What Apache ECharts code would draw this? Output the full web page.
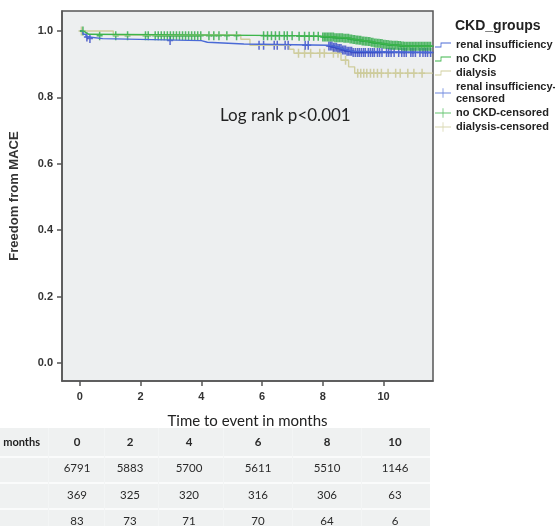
<!DOCTYPE html>
<html>
<head>
<meta charset="utf-8">
<script src="https://cdn.jsdelivr.net/npm/echarts@6/dist/echarts.min.js"></script>
<style>
  html, body { margin: 0; padding: 0; background: #fff; }
  #chart { width: 555px; height: 526px; }
</style>
</head>
<body>
<div id="chart"></div>
<script>
  // Kaplan-Meier steps: [months, freedom from MACE] (value holds from that time on)
  var renalCurve = [[0, 1], [0.1, 0.99], [0.2, 0.982], [0.3, 0.977], [0.75, 0.971], [4.0, 0.966], [4.2, 0.961],
    [5.4, 0.957], [8.2, 0.955], [8.35, 0.951], [8.5, 0.947], [8.65, 0.943], [8.8, 0.939], [9.0, 0.935], [11.62, 0.934]]
  var noCkdCurve = [[0, 1], [0.12, 0.995], [0.2, 0.99], [0.3, 0.986], [7.0, 0.984], [7.9, 0.982], [8.4, 0.98],
    [8.7, 0.978], [8.9, 0.976], [9.0, 0.974], [9.1, 0.973], [9.2, 0.972], [9.3, 0.97], [9.4, 0.969], [9.5, 0.968],
    [9.6, 0.966], [9.7, 0.964], [9.8, 0.963], [9.9, 0.962], [10.0, 0.96], [10.1, 0.959], [10.2, 0.958],
    [10.3, 0.957], [10.5, 0.956], [10.6, 0.955], [10.7, 0.954], [11.62, 0.954]]
  var dialysisCurve = [[0, 1], [1.1, 0.988], [5.3, 0.975], [5.6, 0.957], [6.9, 0.945], [7.05, 0.933],
    [8.6, 0.912], [8.85, 0.892], [9.05, 0.873], [11.62, 0.873]]

  // censoring times (months)
  var renalCensor = [0.23, 0.33, 2.97, 5.9, 6.05, 6.4, 6.5, 6.76, 6.86, 7.42, 7.52, 8.2, 8.25, 8.3, 8.35, 8.4,
    8.45, 8.5, 8.55, 8.6, 8.65, 8.7, 8.75, 8.8, 8.85, 8.9, 8.95, 9.0, 9.07, 9.14, 9.2, 9.27, 9.34, 9.4, 9.5,
    9.57, 9.64, 9.7, 9.8, 9.87, 9.95, 10.1, 10.17, 10.25, 10.35, 10.5, 10.6, 10.68, 10.75, 10.9, 10.97, 11.05,
    11.2, 11.3, 11.38, 11.45, 11.55]
  var noCkdCensor = [0.1, 0.65, 1.18, 1.57, 2.16, 2.25, 2.48, 2.58, 2.68, 2.78, 2.88, 2.98, 3.08, 3.18, 3.28,
    3.38, 3.48, 3.58, 3.68, 3.78, 3.88, 3.98, 4.25, 4.41, 4.58, 4.84, 5.16, 6.05, 6.18, 6.31, 6.44, 6.57, 6.73,
    6.83, 6.99, 7.22, 7.4, 7.55, 7.7, 7.85, 8.0, 8.05, 8.1, 8.15, 8.2, 8.25, 8.3, 8.35, 8.4, 8.45, 8.5, 8.55,
    8.6, 8.65, 8.7, 8.75, 8.8, 8.85, 8.9, 8.95, 9.0, 9.05, 9.1, 9.15, 9.2, 9.25, 9.3, 9.35, 9.4, 9.45, 9.5,
    9.55, 9.6, 9.65, 9.7, 9.75, 9.8, 9.85, 9.9, 9.95, 10.0, 10.05, 10.1, 10.15, 10.2, 10.25, 10.3, 10.35,
    10.4, 10.45, 10.5, 10.55, 10.6, 10.65, 10.7, 10.75, 10.8, 10.85, 10.9, 10.95, 11.0, 11.05, 11.1, 11.15,
    11.2, 11.25, 11.3, 11.35, 11.4, 11.45, 11.5, 11.55]
  var dialysisCensor = [0.05, 7.2, 7.4, 7.6, 7.9, 8.05, 8.35, 8.5, 8.75, 9.15, 9.25, 9.35, 9.45, 9.57, 9.68,
    9.8, 9.93, 10.15, 10.4, 10.55, 10.8, 11.0, 11.27]

  var monthTicks = [0, 2, 4, 6, 8, 10]
  var survTicks = [0, 0.2, 0.4, 0.6, 0.8, 1.0]

  // number at risk table
  var riskMonths = ['0', '2', '4', '6', '8', '10']
  var riskNoCkd = [6791, 5883, 5700, 5611, 5510, 1146]
  var riskRenal = [369, 325, 320, 316, 306, 63]
  var riskDialysis = [83, 73, 71, 70, 64, 6]

  var blue = '#4a6ad6', blueMark = '#3447c4'
  var green = '#3db54b', greenMark = '#2aa845'
  var tan = '#cfcd9c', tanMark = '#c6c38c'

  // value of a KM step curve at time t
  function stepValue(curve, t) {
    var v = curve[0][1]
    for (var i = 0; i < curve.length; i++) {
      if (curve[i][0] <= t) v = curve[i][1]
    }
    return v
  }
  function censorPoints(curve, times) {
    return times.map(function (t) { return [t, stepValue(curve, t)] })
  }

  var plusMark = 'path://M0,3.75L6,3.75L6,5.25L0,5.25Z M2.25,0L3.75,0L3.75,9L2.25,9Z'
  var stepIcon = 'path://M0,5L7,5L7,0L20,0L20,1L8,1L8,6L0,6Z'
  var plusIcon = 'path://M0,5.5L20,5.5L20,6.5L0,6.5Z M9.5,0L10.5,0L10.5,12L9.5,12Z'

  function lineSeries(name, data, color) {
    return {
      name: name, type: 'line', step: 'end', data: data, showSymbol: false, symbol: 'none',
      color: color, lineStyle: { color: color, width: 1.4 }, silent: true, clip: true
    }
  }
  function censorSeries(name, data, color) {
    return {
      name: name, type: 'scatter', data: data, symbol: plusMark, symbolSize: [6, 9],
      color: color, itemStyle: { color: color }, silent: true, clip: true
    }
  }

  // table columns / rows (layout only)
  var colX = [77, 130, 189, 258, 327, 395]
  var rowY = [442, 468, 495, 521]
  var tableGraphics = [
    { type: 'rect', shape: { x: 0, y: 428, width: 430, height: 98 }, style: { fill: '#eff1f1' } }
  ]
  ;[456, 482, 508].forEach(function (y) {
    tableGraphics.push({ type: 'rect', shape: { x: 0, y: y, width: 430, height: 2 }, style: { fill: '#fafbfb' } })
  })
  ;[48, 104, 158, 223, 292, 361].forEach(function (x) {
    tableGraphics.push({ type: 'rect', shape: { x: x, y: 428, width: 1, height: 98 }, style: { fill: '#f3f5f5' } })
  })
  tableGraphics.push({
    type: 'text', style: { text: 'months', x: 40, y: rowY[0], align: 'right', verticalAlign: 'middle',
      font: 'bold 11px Lato', fill: '#222' }
  })
  var rows = [riskMonths, riskNoCkd, riskRenal, riskDialysis]
  rows.forEach(function (row, r) {
    row.forEach(function (val, c) {
      tableGraphics.push({
        type: 'text',
        style: {
          text: String(val), x: colX[c], y: rowY[r], align: 'center', verticalAlign: 'middle',
          font: (r === 0 ? 'bold ' : '') + '11.5px Lato', fill: '#2a2a2a'
        }
      })
    })
  })
  tableGraphics.push({
    type: 'text', style: { text: 'Log rank p<0.001', x: 220, y: 116, verticalAlign: 'middle',
      font: '17px Lato', fill: '#222' }
  })

  var chart = echarts.init(document.getElementById('chart'))
  chart.setOption({
    animation: false,
    backgroundColor: '#fff',
    title: {
      text: 'CKD_groups', left: 455, top: 19, padding: 0,
      textStyle: { fontFamily: 'Liberation Sans', fontWeight: 'bold', fontSize: 14, color: '#222' }
    },
    legend: {
      orient: 'vertical', left: 435, top: 39, padding: 0, itemWidth: 16, itemHeight: 12, itemGap: 2,
      selectedMode: false,
      itemStyle: { borderWidth: 0 },
      textStyle: { fontFamily: 'Liberation Sans', fontWeight: 'bold', fontSize: 11, color: '#222', lineHeight: 12 },
      formatter: function (name) {
        return name === 'renal insufficiency-censored' ? 'renal insufficiency-\ncensored' : name
      },
      data: [
        { name: 'renal insufficiency', icon: stepIcon, itemStyle: { color: blue } },
        { name: 'no CKD', icon: stepIcon, itemStyle: { color: green } },
        { name: 'dialysis', icon: stepIcon, itemStyle: { color: tan } },
        { name: 'renal insufficiency-censored', icon: plusIcon, itemStyle: { color: blue } },
        { name: 'no CKD-censored', icon: plusIcon, itemStyle: { color: green } },
        { name: 'dialysis-censored', icon: plusIcon, itemStyle: { color: tan } }
      ]
    },
    grid: {
      left: 59, top: 11, right: 122, bottom: 145, show: true,
      backgroundColor: '#edeff0', borderColor: '#555', borderWidth: 1.5
    },
    xAxis: {
      type: 'value', min: -0.59, max: 11.63,
      name: 'Time to event in months', nameLocation: 'middle', nameGap: 33,
      nameTextStyle: { fontFamily: 'Lato', fontSize: 15, color: '#222' },
      axisLine: { show: true, onZero: false, lineStyle: { color: '#555', width: 1.5 } },
      axisTick: { show: true, inside: false, length: 5, lineStyle: { color: '#555', width: 1.5 }, customValues: monthTicks },
      axisLabel: { customValues: monthTicks, margin: 10, fontFamily: 'Liberation Sans', fontWeight: 'bold',
        fontSize: 11, color: '#333' },
      splitLine: { show: false }
    },
    yAxis: {
      type: 'value', min: -0.0542, max: 1.0602,
      name: 'Freedom from MACE', nameLocation: 'middle', nameGap: 41,
      nameTextStyle: { fontFamily: 'Liberation Sans', fontWeight: 'bold', fontSize: 13, color: '#333' },
      axisLine: { show: true, onZero: false, lineStyle: { color: '#555', width: 1.5 } },
      axisTick: { show: true, inside: false, length: 5, lineStyle: { color: '#555', width: 1.5 }, customValues: survTicks },
      axisLabel: { customValues: survTicks, margin: 9, fontFamily: 'Liberation Sans', fontWeight: 'bold',
        fontSize: 11, color: '#333', formatter: function (v) { return v.toFixed(1) } },
      splitLine: { show: false }
    },
    graphic: tableGraphics,
    series: [
      lineSeries('dialysis', dialysisCurve, tan),
      lineSeries('renal insufficiency', renalCurve, blue),
      lineSeries('no CKD', noCkdCurve, green),
      censorSeries('dialysis-censored', censorPoints(dialysisCurve, dialysisCensor), tanMark),
      censorSeries('renal insufficiency-censored', censorPoints(renalCurve, renalCensor), blueMark),
      censorSeries('no CKD-censored', censorPoints(noCkdCurve, noCkdCensor), greenMark)
    ]
  })
</script>
</body>
</html>
